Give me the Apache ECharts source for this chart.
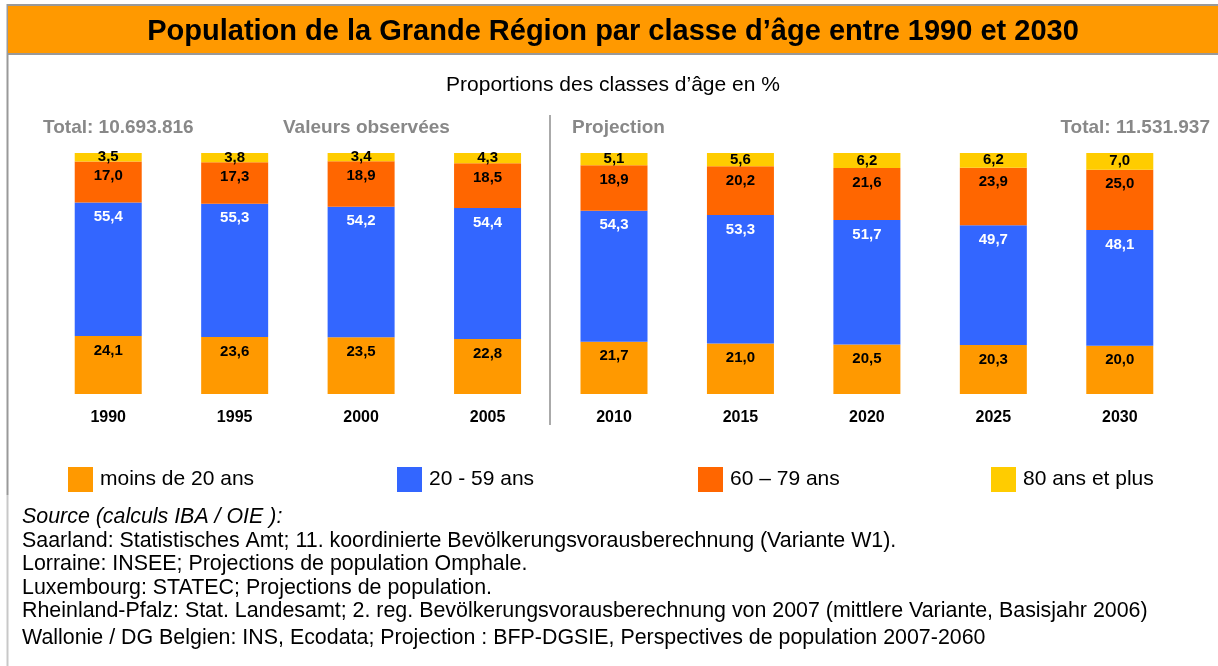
<!DOCTYPE html>
<html>
<head>
<meta charset="utf-8">
<script src="https://cdn.jsdelivr.net/npm/echarts@6/dist/echarts.min.js"></script>
<style>
  html, body { margin: 0; padding: 0; background: #fff; }
  #main { width: 1218px; height: 666px; }
</style>
</head>
<body>
<div id="main"></div>
<script>
// années
const years = ["1990", "1995", "2000", "2005", "2010", "2015", "2020", "2025", "2030"];
// parts en %
const moins20 = [24.1, 23.6, 23.5, 22.8, 21.7, 21.0, 20.5, 20.3, 20.0];
const de20a59 = [55.4, 55.3, 54.2, 54.4, 54.3, 53.3, 51.7, 49.7, 48.1];
const de60a79 = [17.0, 17.3, 18.9, 18.5, 18.9, 20.2, 21.6, 23.9, 25.0];
const plus80 = [3.5, 3.8, 3.4, 4.3, 5.1, 5.6, 6.2, 6.2, 7.0];

const seriesNames = ["moins de 20 ans", "20 - 59 ans", "60 – 79 ans", "80 ans et plus"];
const colors = ["#FF9900", "#3366FF", "#FF6600", "#FFCC00"];

const sourceLines = [
  "Saarland: Statistisches Amt; 11. koordinierte Bevölkerungsvorausberechnung (Variante W1).",
  "Lorraine: INSEE; Projections de population Omphale.",
  "Luxembourg: STATEC; Projections de population.",
  "Rheinland-Pfalz: Stat. Landesamt; 2. reg. Bevölkerungsvorausberechnung von 2007 (mittlere Variante, Basisjahr 2006)",
  "Wallonie / DG Belgien: INS, Ecodata; Projection : BFP-DGSIE, Perspectives de population 2007-2060"
];

const font = "'Liberation Sans', Arial, sans-serif";

// format 24.1 -> "24,1"
function fmt(p) {
  return p.value.toFixed(1).replace(".", ",");
}

function makeSeries(name, data, color, labelColor, pos) {
  return {
    name: name,
    type: "bar",
    stack: "total",
    data: data,
    barWidth: 67,
    itemStyle: { color: color },
    label: {
      show: true,
      position: pos,
      distance: 7,
      formatter: fmt,
      color: labelColor,
      fontWeight: "bold",
      fontSize: 15,
      fontFamily: font
    }
  };
}

// texte simple, centré verticalement sur y
function txt(x, y, text, f, fill, align) {
  return {
    type: "text",
    x: x,
    y: y,
    style: { text: text, font: f, fill: fill || "#000", align: align || "left", verticalAlign: "middle" },
    z: 3
  };
}

let myChart = echarts.init(document.getElementById("main"));

let legendLefts = [63, 392, 693, 986];
let legends = seriesNames.map((n, i) => ({
  data: [n],
  left: legendLefts[i],
  top: 462,
  icon: "rect",
  itemWidth: 25,
  itemHeight: 25,
  itemGap: 0,
  textStyle: { fontSize: 21, color: "#000", fontFamily: font, padding: [3, 0, 0, 2] }
}));

let graphics = [
  // cadre
  { type: "line", shape: { x1: 7, y1: 5, x2: 1218, y2: 5 }, style: { stroke: "#999", lineWidth: 2 } },
  { type: "line", shape: { x1: 7.5, y1: 4, x2: 7.5, y2: 495 }, style: { stroke: "#999", lineWidth: 2 } },
  { type: "line", shape: { x1: 7.5, y1: 495, x2: 7.5, y2: 666 }, style: { stroke: "#c8c8c8", lineWidth: 2 } },
  // bandeau du titre
  { type: "rect", shape: { x: 8, y: 6, width: 1210, height: 47 }, style: { fill: "#FF9900" }, z: 2 },
  { type: "line", shape: { x1: 7, y1: 54, x2: 1218, y2: 54 }, style: { stroke: "#999", lineWidth: 2 }, z: 2 },
  txt(613, 32, "Population de la Grande Région par classe d’âge entre 1990 et 2030", "bold 29px " + font, "#000", "center"),
  txt(613, 85, "Proportions des classes d’âge en %", "21px " + font, "#000", "center"),
  txt(43, 128, "Total: 10.693.816", "bold 19px " + font, "#888"),
  txt(283, 128, "Valeurs observées", "bold 19px " + font, "#888"),
  txt(572, 128, "Projection", "bold 19px " + font, "#888"),
  txt(1210, 128, "Total: 11.531.937", "bold 19px " + font, "#888", "right"),
  // séparation observé / projection
  { type: "line", shape: { x1: 550, y1: 115, x2: 550, y2: 425 }, style: { stroke: "#aaa", lineWidth: 2 } },
  txt(22, 517, "Source (calculs IBA / OIE ):", "italic 21.4px " + font)
];
let srcY = [541, 564, 588, 611, 638];
sourceLines.forEach((t, i) => {
  graphics.push(txt(22, srcY[i], t, "21.4px " + font));
});

myChart.setOption({
  animation: false,
  legend: legends,
  grid: {
    left: 45,
    right: 35,
    top: 153,
    bottom: 272
  },
  xAxis: {
    type: "category",
    data: years,
    axisLine: { show: false },
    axisTick: { show: false },
    axisLabel: {
      margin: 16,
      color: "#000",
      fontWeight: "bold",
      fontSize: 16,
      fontFamily: font
    }
  },
  yAxis: {
    type: "value",
    min: 0,
    max: 100,
    show: false,
    splitLine: { show: false }
  },
  series: [
    makeSeries(seriesNames[0], moins20, colors[0], "#000", "insideTop"),
    makeSeries(seriesNames[1], de20a59, colors[1], "#fff", "insideTop"),
    makeSeries(seriesNames[2], de60a79, colors[2], "#000", "insideTop"),
    makeSeries(seriesNames[3], plus80, colors[3], "#000", "inside")
  ],
  graphic: graphics
});
</script>
</body>
</html>
